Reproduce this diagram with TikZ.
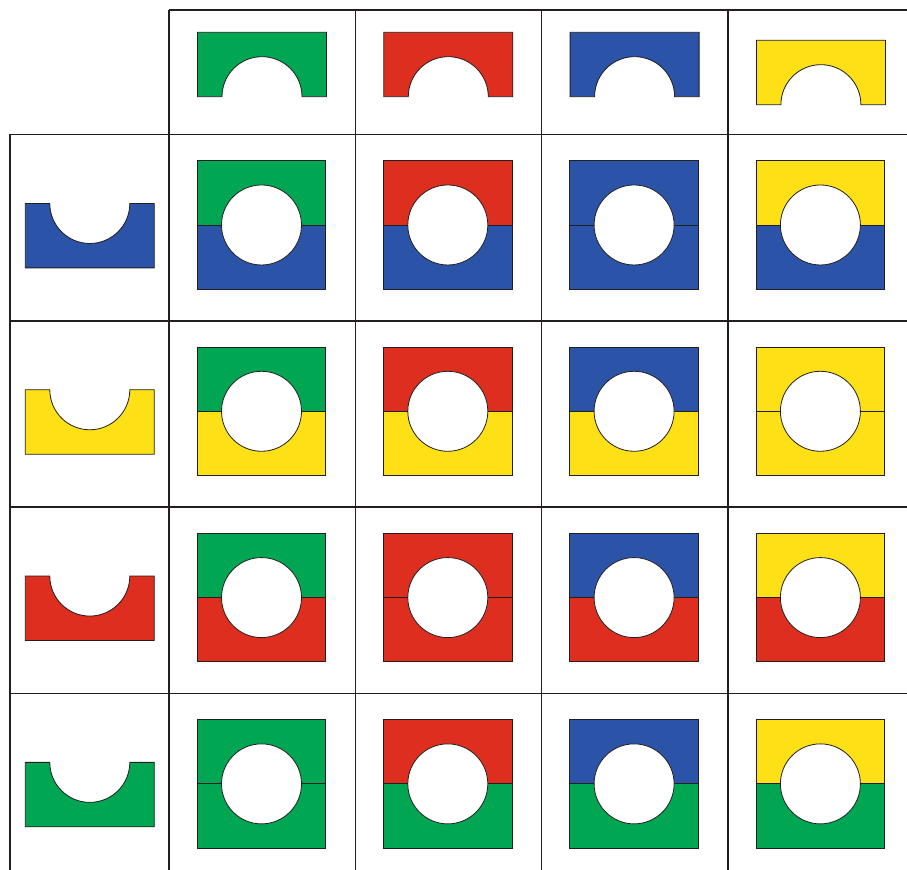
\documentclass[tikz,border=0pt]{standalone}
\usepackage{xcolor}
\definecolor{tilegreen}{HTML}{00A651}
\definecolor{tilered}{HTML}{DE2E1F}
\definecolor{tileblue}{HTML}{2B53A8}
\definecolor{tileyellow}{HTML}{FDE015}
\definecolor{tileline}{HTML}{231F20}
\usepackage{tikz}
\tikzset{
  every picture/.style={line cap=butt, line join=miter},
  gridline/.style={tileline, line width=0.8pt},
  piece/.style={draw=tileline, line width=0.4pt},
}

\begin{document}
\begin{tikzpicture}[x=0.5pt, y=0.5pt]
\useasboundingbox (0,0) rectangle (907,870);
% table rules
\draw[gridline] (169,860) -- (907,860);
\foreach \y in {735.5,549.2,362.9,176.6} \draw[gridline] (10,\y) -- (907,\y);
\draw[gridline] (10,735.5) -- (10,0);
\foreach \x in {169,355.3,541.6,727.9} \draw[gridline] (\x,860) -- (\x,0);
% upper halves: column heads
\foreach \c/\i/\dy in {tilegreen/0/0, tilered/1/0, tileblue/2/0, tileyellow/3/-8}
  \filldraw[piece, fill=\c, shift={({262+186.3*\i},{773.3+\dy})}]
    (-64.5,0) -- (-64.5,64.4) -- (64.5,64.4) -- (64.5,0) -- (40,0)
    arc[start angle=0, end angle=180, radius=40] -- cycle;
% lower halves: row heads
\foreach \c/\j in {tileblue/0, tileyellow/1, tilered/2, tilegreen/3}
  \filldraw[piece, fill=\c, shift={(89.8,{666.5-186.3*\j})}]
    (-64.5,0) -- (-40,0) arc[start angle=180, end angle=360, radius=40]
    -- (64.5,0) -- (64.5,-64.4) -- (-64.5,-64.4) -- cycle;
% combined pieces
\foreach \r/\j in {tileblue/0, tileyellow/1, tilered/2, tilegreen/3}
  \foreach \c/\i in {tilegreen/0, tilered/1, tileblue/2, tileyellow/3} {
    \begin{scope}[shift={({261.5+186.3*\i},{645-186.3*\j})}]
      \filldraw[piece, fill=\c] (-64.3,0) rectangle (64.3,64.3);
      \filldraw[piece, fill=\r] (-64.3,-64.3) rectangle (64.3,0);
      \filldraw[piece, fill=white] (0,0) circle[radius=40];
    \end{scope}
  }
\end{tikzpicture}
\end{document}
